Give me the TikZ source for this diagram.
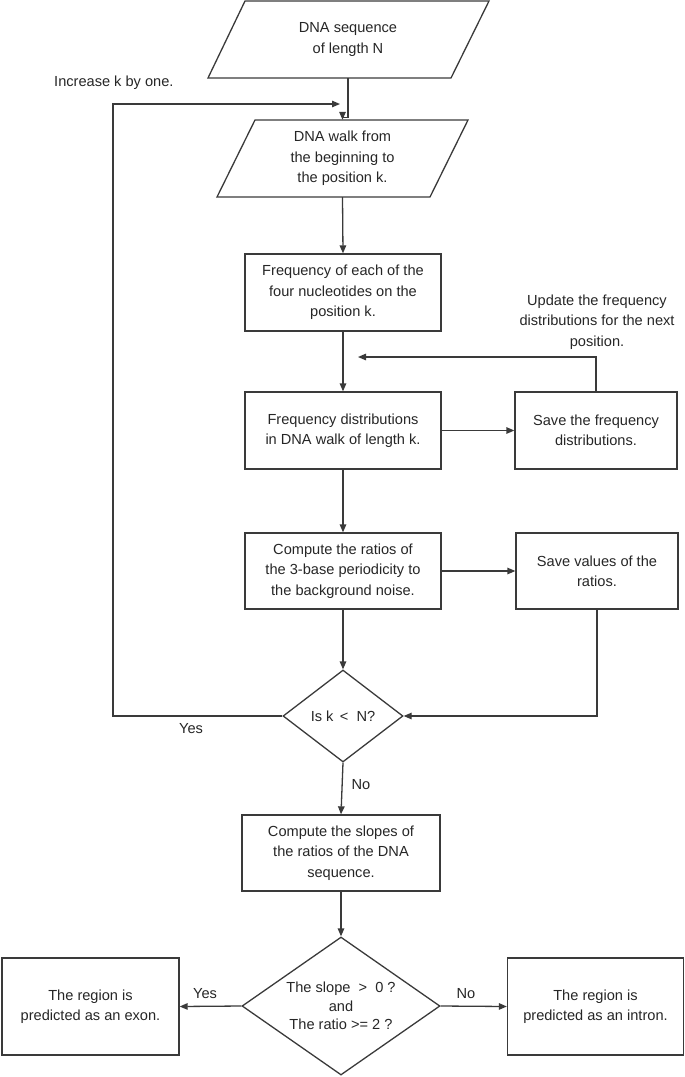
\documentclass[tikz,border=0pt]{standalone}
\usepackage{fontspec}
\setmainfont{Liberation Sans}
\usetikzlibrary{arrows.meta,shapes.geometric}
\definecolor{ln}{HTML}{3A3A3A}
\definecolor{tx}{HTML}{262626}
\begin{document}
\begin{tikzpicture}[x=1pt,y=-1pt,
  every node/.style={font=\fontsize{14.6}{20.3}\selectfont, text=tx, align=center, inner sep=0pt},
  boxnode/.style={draw=ln, line width=1.3pt, rectangle},
  decnode/.style={draw=ln, line width=1.3pt, diamond},
  arr/.style={draw=ln, line width=1.3pt, -{Triangle[length=8pt,width=6.5pt]}},
  lbl/.style={}]
\useasboundingbox (0,0) rectangle (685,1077);
% parallelograms
\draw[ln, line width=1.3pt] (245,1) -- (489,1) -- (451,78) -- (208,78) -- cycle;
\node (p1) at (348,39.5) [minimum width=200pt, minimum height=77pt] {DNA sequence\\of length N};
\draw[ln, line width=1.3pt] (255,120) -- (468,120) -- (430,197) -- (217,197) -- cycle;
\node (p2) at (342.5,158.5) [minimum width=170pt, minimum height=77pt] {DNA walk from\\the beginning to\\the position k.};
% boxes
\node[boxnode, minimum width=196pt, minimum height=77pt] (b3) at (343,292.5) {Frequency of each of the\\four nucleotides on the\\position k.};
\node[boxnode, minimum width=196pt, minimum height=77pt] (b4) at (343,430.5) {Frequency distributions\\in DNA walk of length k.};
\node[boxnode, minimum width=162pt, minimum height=77pt] (b5) at (596,430.5) {Save the frequency\\distributions.};
\node[lbl] (upd) at (597,322) {Update the frequency\\distributions for the next\\position.};
\node[boxnode, minimum width=196pt, minimum height=76pt] (b6) at (343,571) {Compute the ratios of\\the 3-base periodicity to\\the background noise.};
\node[boxnode, minimum width=162pt, minimum height=76pt] (b7) at (597,571) {Save values of the\\ratios.};
\node[decnode, minimum width=120pt, minimum height=92pt] (d1) at (343,716) {Is k \,<\ \ N?};
\node[boxnode, minimum width=198pt, minimum height=76pt] (b8) at (341,853) {Compute the slopes of\\the ratios of the DNA\\sequence.};
\node[decnode, minimum width=198pt, minimum height=138pt, aspect=1.43, font=\fontsize{14.6}{18.5}\selectfont] (d2) at (341,1006) {The slope \ >\ \ 0 ?\\and\\The ratio >= 2 ?};
\node[boxnode, minimum width=177pt, minimum height=97pt] (ex) at (90.5,1006.5) {The region is\\predicted as an exon.};
\node[boxnode, minimum width=176pt, minimum height=97pt] (in) at (595.5,1006.5) {The region is\\predicted as an intron.};
% labels
\node[lbl, anchor=west] (inc) at (54,83) {Increase k by one.};
\node[lbl] (y1) at (191,729) {Yes};
\node[lbl] (n1) at (361,785) {No};
\node[lbl] (y2) at (205,994) {Yes};
\node[lbl] (n2) at (466,994) {No};
% coordinates
\coordinate (fb) at (358,357);
\coordinate (lc) at (113,104);
\coordinate (lp) at (340,104);
% connectors
\draw[arr] (p1.south) -- ++(0,39) -| (p2.north);
\draw[arr] (p2.south) -- (b3.north);
\draw[arr] (b3.south) -- (b4.north);
\draw[arr] (b4.east) -- (b5.west);
\draw[arr] (b5.north) |- (fb);
\draw[arr] (b4.south) -- (b6.north);
\draw[arr] (b6.east) -- (b7.west);
\draw[arr] (b6.south) -- (d1.north);
\draw[arr] (b7.south) |- (d1.east);
\draw[arr] (d1.west) -| (lc) -- (lp);
\draw[arr] (d1.south) -- (b8.north);
\draw[arr] (b8.south) -- (d2.north);
\draw[arr] (d2.west) -- (ex.east);
\draw[arr] (d2.east) -- (in.west);
\end{tikzpicture}
\end{document}
